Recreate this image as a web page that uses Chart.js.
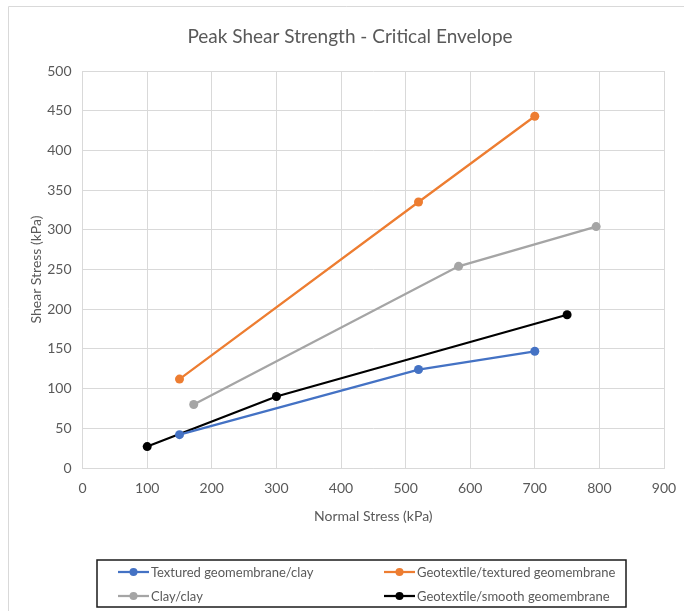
<!DOCTYPE html>
<html>
<head>
<meta charset="utf-8">
<script src="https://cdn.jsdelivr.net/npm/chart.js@4/dist/chart.umd.min.js"></script>
<style>
  html, body { margin: 0; padding: 0; background: #ffffff; }
  #wrap { position: relative; width: 684px; height: 611px; }
  canvas { display: block; }
</style>
</head>
<body>
<div id="wrap"><canvas id="chart" width="684" height="611"></canvas></div>
<script>
// Normal stress (kPa) and peak shear stress (kPa) for each interface
const texturedClayNormal = [150, 520, 700];
const texturedClayShear = [42, 124, 147];

const geotextileTexturedNormal = [150, 520, 700];
const geotextileTexturedShear = [112, 335, 443];

const clayClayNormal = [172, 582, 795];
const clayClayShear = [80, 254, 304];

const geotextileSmoothNormal = [100, 300, 750];
const geotextileSmoothShear = [27, 90, 193];

const seriesLabels = [
  'Textured geomembrane/clay',
  'Geotextile/textured geomembrane',
  'Clay/clay',
  'Geotextile/smooth geomembrane'
];
const seriesColors = ['#4472C4', '#ED7D31', '#A5A5A5', '#000000'];

const chartTitle = 'Peak Shear Strength - Critical Envelope';
const xTitle = 'Normal Stress (kPa)';
const yTitle = 'Shear Stress (kPa)';

const FONT = 'Lato, "Open Sans", sans-serif';
const TEXT = '#595959';
const GRID = '#d9d9d9';

function pairs(xs, ys) {
  return xs.map((x, i) => ({ x: x, y: ys[i] }));
}

function makeSet(i, xs, ys) {
  return {
    label: seriesLabels[i],
    data: pairs(xs, ys),
    borderColor: seriesColors[i],
    backgroundColor: seriesColors[i],
    borderWidth: 2.25,
    pointRadius: 4.5,
    pointHoverRadius: 4.5,
    pointBorderWidth: 0,
    showLine: true,
    tension: 0
  };
}

// Frame, title and the boxed two-column legend
const decorations = {
  id: 'decorations',
  beforeDraw(chart) {
    const ctx = chart.ctx;
    ctx.save();
    ctx.strokeStyle = GRID;
    ctx.lineWidth = 1;
    ctx.beginPath();
    ctx.moveTo(8.5, chart.height);
    ctx.lineTo(8.5, 6.5);
    ctx.lineTo(chart.width, 6.5);
    ctx.stroke();
    ctx.restore();
  },
  afterDraw(chart) {
    const ctx = chart.ctx;
    ctx.save();
    ctx.fillStyle = TEXT;
    ctx.font = '19px ' + FONT;
    ctx.textAlign = 'center';
    ctx.textBaseline = 'middle';
    ctx.fillText(chartTitle, 350, 37);

    // legend box
    ctx.strokeStyle = '#1a1a1a';
    ctx.lineWidth = 1.5;
    ctx.strokeRect(97, 560, 529, 47);

    const cols = [118, 384];
    const rows = [572, 596];
    ctx.font = '13px ' + FONT;
    ctx.textAlign = 'left';
    chart.data.datasets.forEach((ds, i) => {
      const x0 = cols[i % 2];
      const y0 = rows[Math.floor(i / 2)];
      ctx.strokeStyle = ds.borderColor;
      ctx.lineWidth = 2.25;
      ctx.beginPath();
      ctx.moveTo(x0, y0);
      ctx.lineTo(x0 + 31, y0);
      ctx.stroke();
      ctx.fillStyle = ds.backgroundColor;
      ctx.beginPath();
      ctx.arc(x0 + 15.5, y0, 4, 0, Math.PI * 2);
      ctx.fill();
      ctx.fillStyle = TEXT;
      ctx.fillText(ds.label, x0 + 33, y0 + 0.5);
    });
    ctx.restore();
  }
};

new Chart(document.getElementById('chart'), {
  type: 'scatter',
  data: {
    datasets: [
      makeSet(0, texturedClayNormal, texturedClayShear),
      makeSet(1, geotextileTexturedNormal, geotextileTexturedShear),
      makeSet(2, clayClayNormal, clayClayShear),
      makeSet(3, geotextileSmoothNormal, geotextileSmoothShear)
    ]
  },
  options: {
    responsive: false,
    animation: false,
    layout: { padding: { top: 71, right: 20, bottom: 83, left: 0 } },
    plugins: {
      legend: { display: false },
      title: { display: false },
      tooltip: { enabled: false }
    },
    scales: {
      x: {
        type: 'linear',
        min: 0,
        max: 900,
        afterFit(scale) {
          scale.height = 60;
          scale.paddingLeft = 0;
          scale.paddingRight = 0;
        },
        ticks: { stepSize: 100, color: TEXT, font: { family: FONT, size: 14 }, padding: 12, maxRotation: 0 },
        grid: { color: GRID, lineWidth: 1, drawTicks: false },
        border: { color: GRID, width: 1 },
        title: { display: true, text: xTitle, color: TEXT, font: { family: FONT, size: 14 }, padding: { top: 0, bottom: 3 } }
      },
      y: {
        type: 'linear',
        min: 0,
        max: 500,
        afterFit(scale) {
          scale.width = 82.6;
          scale.paddingTop = 0;
          scale.paddingBottom = 0;
        },
        ticks: { stepSize: 50, color: TEXT, font: { family: FONT, size: 14 }, padding: 11 },
        grid: { color: GRID, lineWidth: 1, drawTicks: false },
        border: { color: GRID, width: 1 },
        title: { display: true, text: yTitle, color: TEXT, font: { family: FONT, size: 14 }, padding: { top: 28, bottom: 0 } }
      }
    }
  },
  plugins: [decorations]
});
</script>
</body>
</html>
